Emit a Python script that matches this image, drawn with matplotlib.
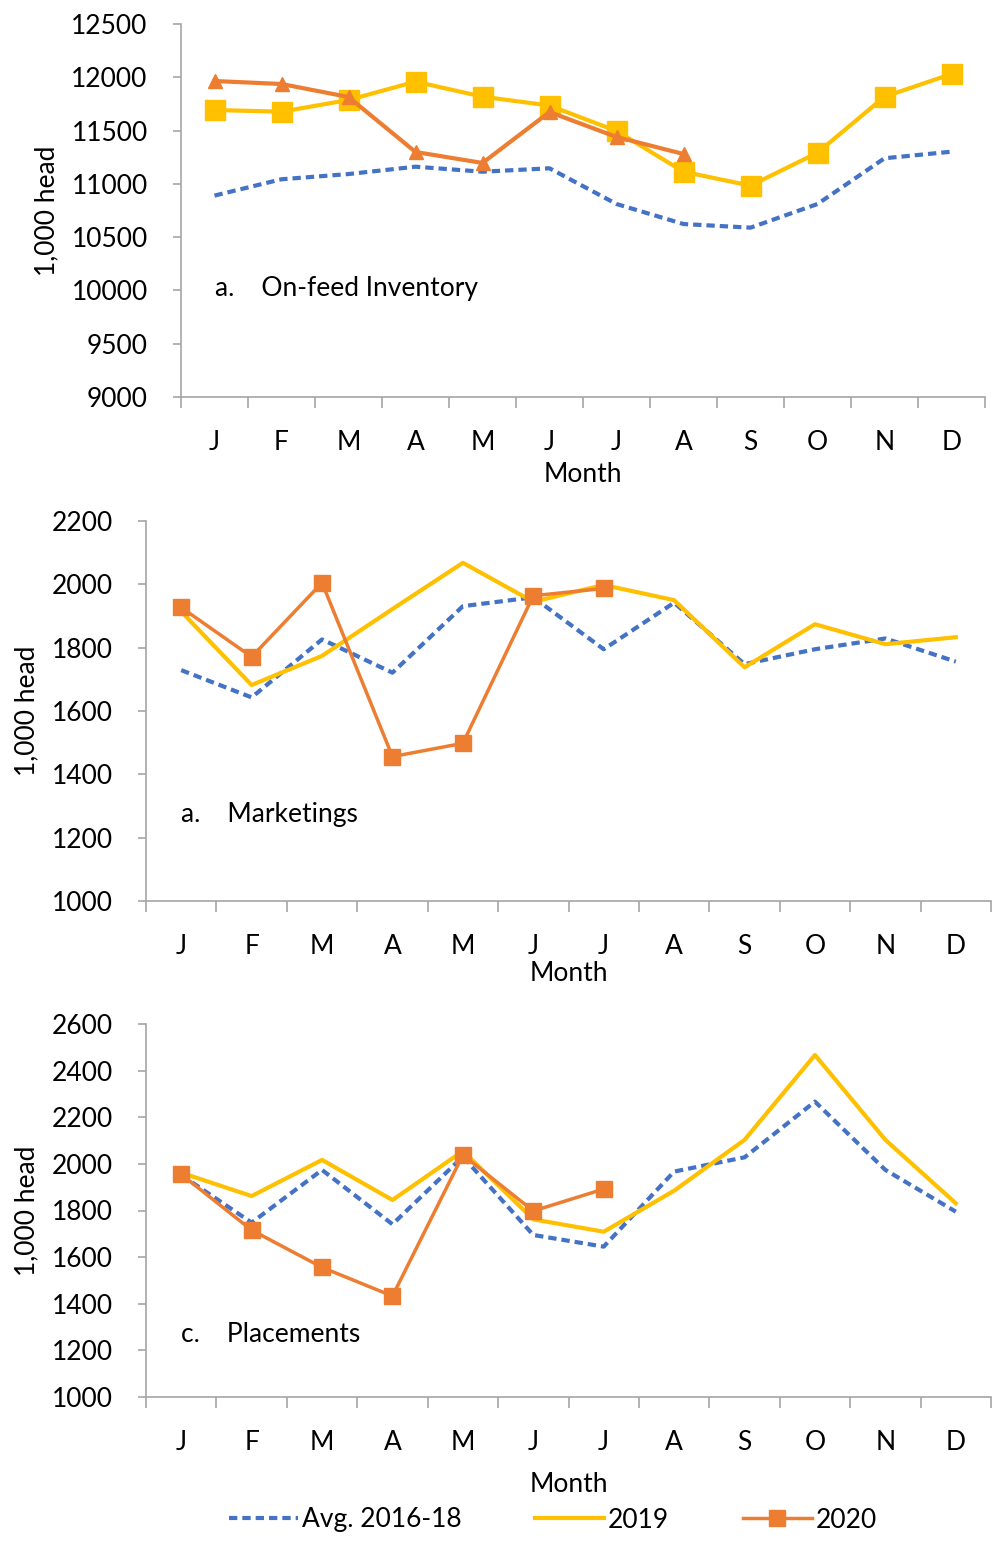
import numpy as np
import matplotlib.pyplot as plt
from matplotlib.ticker import FixedLocator

plt.rcParams['font.family'] = ['Lato', 'DejaVu Sans']

months = ['J', 'F', 'M', 'A', 'M', 'J', 'J', 'A', 'S', 'O', 'N', 'D']

# On-feed inventory, 1,000 head
inv_avg = [10890, 11043, 11092, 11161, 11114, 11146, 10811, 10623, 10589, 10811, 11240, 11302]
inv_2019 = [11693, 11677, 11787, 11959, 11818, 11735, 11496, 11114, 10983, 11292, 11818, 12031]
inv_2020 = [11965, 11937, 11815, 11299, 11196, 11674, 11440, 11280]

# Marketings
mkt_avg = [1729, 1643, 1826, 1721, 1931, 1959, 1795, 1942, 1748, 1795, 1829, 1756]
mkt_2019 = [1914, 1682, 1774, 1922, 2068, 1945, 1998, 1950, 1738, 1874, 1811, 1833]
mkt_2020 = [1927, 1771, 2005, 1456, 1498, 1964, 1987]

# Placements
plc_avg = [1952, 1748, 1974, 1741, 2031, 1695, 1645, 1967, 2028, 2267, 1974, 1795]
plc_2019 = [1962, 1862, 2017, 1845, 2055, 1762, 1709, 1885, 2103, 2467, 2103, 1831]
plc_2020 = [1955, 1716, 1556, 1433, 2038, 1798, 1892]

BLUE = '#4472C4'
YELLOW = '#FFC000'
ORANGE = '#ED7D31'
GRID = '#A6A6A6'
FS = 19

W, H = 997, 1543
fig = plt.figure(figsize=(W / 100, H / 100), dpi=100)


def px_axes(l, t, r, b):
    return fig.add_axes([l / W, 1 - b / H, (r - l) / W, (b - t) / H])


def style(ax, ylim, step, xlab_y, ylab_x):
    ax.set_xlim(-0.5, 11.5)
    ax.set_ylim(*ylim)
    ax.set_yticks(np.arange(ylim[0], ylim[1] + 1, step))
    for s in ['top', 'right']:
        ax.spines[s].set_visible(False)
    for s in ['left', 'bottom']:
        ax.spines[s].set_color(GRID)
        ax.spines[s].set_linewidth(1.2)
    # Excel style: ticks between categories, labels centered
    ax.xaxis.set_major_locator(FixedLocator(np.arange(-0.5, 12, 1)))
    ax.xaxis.set_minor_locator(FixedLocator(np.arange(12)))
    ax.set_xticklabels([])
    ax.set_xticks(np.arange(12), months, minor=True)
    ax.tick_params(axis='x', which='major', direction='out', length=8, color=GRID, width=1.2)
    ax.tick_params(axis='x', which='minor', length=0, pad=24, labelsize=FS)
    ax.tick_params(axis='y', direction='out', length=6, color=GRID, width=1.2, pad=18, labelsize=FS)
    ax.set_xlabel('Month', fontsize=FS)
    ax.xaxis.label.set_va('center')
    bb = ax.get_position()
    h_px = bb.height * H
    w_px = bb.width * W
    ax.xaxis.set_label_coords(0.5, -xlab_y / h_px)
    ax.set_ylabel('1,000 head', fontsize=FS)
    ax.yaxis.set_label_coords(-ylab_x / w_px, 0.5)


# a. On-feed inventory
ax1 = px_axes(181, 24, 985, 397)
x = np.arange(12)
ax1.plot(x, inv_avg, color=BLUE, lw=3, ls=(0, (2, 1.2)))
ax1.plot(x, inv_2019, color=YELLOW, lw=3, marker='s', ms=14)
ax1.plot(x[:len(inv_2020)], inv_2020, color=ORANGE, lw=3, marker='^', ms=10)
ax1.text(0, 10020, 'a.    On-feed Inventory', fontsize=FS, va='center', ha='left')
style(ax1, (9000, 12500), 500, 77, 122)

# b. Marketings
ax2 = px_axes(146, 521, 991, 901)
ax2.plot(x, mkt_avg, color=BLUE, lw=3, ls=(0, (2, 1.2)))
ax2.plot(x, mkt_2019, color=YELLOW, lw=3)
ax2.plot(x[:len(mkt_2020)], mkt_2020, color=ORANGE, lw=2.5, marker='s', ms=11)
ax2.text(0, 1272, 'a.    Marketings', fontsize=FS, va='center', ha='left')
style(ax2, (1000, 2200), 200, 72, 107)

# c. Placements
ax3 = px_axes(146, 1024, 991, 1397)
ax3.plot(x, plc_avg, color=BLUE, lw=3, ls=(0, (2, 1.2)), label='Avg. 2016-18')
ax3.plot(x, plc_2019, color=YELLOW, lw=3, label='2019')
ax3.plot(x[:len(plc_2020)], plc_2020, color=ORANGE, lw=2.5, marker='s', ms=11, label='2020')
ax3.text(0, 1270, 'c.    Placements', fontsize=FS, va='center', ha='left')
style(ax3, (1000, 2600), 200, 88, 107)

fig.legend(*ax3.get_legend_handles_labels(), loc='center', ncol=3,
           bbox_to_anchor=(553 / W, 1 - 1520 / H), frameon=False, fontsize=FS,
           handlelength=2.6, handletextpad=0.15, columnspacing=2.8)

fig.savefig('out.png', dpi=100)
